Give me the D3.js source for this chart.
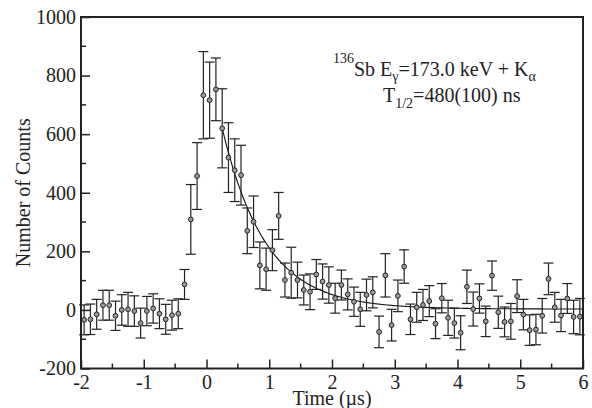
<!DOCTYPE html>
<html><head><meta charset="utf-8">
<script src="https://cdn.jsdelivr.net/npm/d3@7"></script>
<style>html,body{margin:0;padding:0;background:#fff;} svg{display:block;}</style>
</head><body>
<svg id="c" width="592" height="408"></svg>
<script>
// bin centres (µs)
const times = [-1.95,-1.85,-1.75,-1.65,-1.55,-1.45,-1.35,-1.25,-1.15,-1.05,-0.95,-0.85,-0.75,-0.65,-0.55,-0.45,-0.35,-0.25,-0.15,-0.05,
 0.05,0.15,0.25,0.35,0.45,0.55,0.65,0.75,0.85,0.95,1.05,1.15,1.25,1.35,1.45,1.55,1.65,1.75,1.85,1.95,
 2.05,2.15,2.25,2.35,2.45,2.55,2.65,2.75,2.85,2.95,3.05,3.15,3.25,3.35,3.45,3.55,3.65,3.75,3.85,3.95,
 4.05,4.15,4.25,4.35,4.45,4.55,4.65,4.75,4.85,4.95,5.05,5.15,5.25,5.35,5.45,5.55,5.65,5.75,5.85,5.95];
const counts = [-34,-32,-15,16,16,-20,0,2,-4,-45,-4,5,-13,-32,-18,-13,87,309,457,733,
 716,753,620,520,477,460,270,301,152,139,204,321,102,127,102,68,62,121,97,85,
 40,85,53,28,2,51,60,-75,118,-52,48,148,-32,9,17,30,-47,40,-27,-45,
 -78,79,3,39,-39,117,-8,-41,-39,47,-16,-69,-67,-20,106,9,-19,39,-24,-23];
const errors = [51,52,51,51,51,50,52,58,52,51,50,50,51,51,51,51,51,119,114,149,
 130,107,135,119,107,102,78,88,80,72,70,80,58,87,61,51,61,51,60,62,
 51,51,53,50,58,54,53,54,74,54,54,57,52,51,53,53,51,50,60,51,
 58,57,58,50,52,50,55,51,61,56,52,52,52,59,54,51,55,51,57,62];
// exponential fit: N(t) = fitN0 * 2^(-(t - fitStart)/fitHalfLife) + fitBg
const fitStart = 0.25, fitEnd = 6, fitN0 = 617, fitHalfLife = 0.48, fitBg = 3;
const xTicks = [-2,-1,0,1,2,3,4,5,6];
const yTicks = [-200,0,200,400,600,800,1000];

const svg = d3.select("#c");
const L = 81, R = 583, T = 17, B = 368.5;
const x = d3.scaleLinear().domain([-2,6]).range([L,R]);
const y = d3.scaleLinear().domain([-200,1000]).range([B,T]);
const font = "'Liberation Serif','Times New Roman',serif";
const ink = "#222";

const data = times.map((t,i)=>({t, v:counts[i], e:errors[i]}));

// fit curve
const fitPts = d3.range(fitStart, fitEnd + 1e-9, 0.02).map(t=>[t, fitN0*Math.pow(2, -(t-fitStart)/fitHalfLife) + fitBg]);
svg.append("path").datum(fitPts)
  .attr("d", d3.line().x(d=>x(d[0])).y(d=>y(d[1])))
  .attr("fill","none").attr("stroke","#111").attr("stroke-width",1.1);

// error bars
const eb = svg.append("g").attr("stroke", ink).attr("stroke-width",1.2).attr("fill","none");
data.forEach(d=>{
  const xc = x(d.t), y1 = y(d.v + d.e), y2 = y(d.v - d.e);
  eb.append("line").attr("x1",xc).attr("x2",xc).attr("y1",y1).attr("y2",y2);
  eb.append("line").attr("x1",xc-5).attr("x2",xc+5).attr("y1",y1).attr("y2",y1);
  eb.append("line").attr("x1",xc-5).attr("x2",xc+5).attr("y1",y2).attr("y2",y2);
});
// markers
svg.append("g").selectAll("circle").data(data).join("circle")
  .attr("cx",d=>x(d.t)).attr("cy",d=>y(d.v)).attr("r",2.4)
  .attr("fill","#9a9a9a").attr("stroke","#222").attr("stroke-width",1);

// frame
svg.append("rect").attr("x",L).attr("y",T).attr("width",R-L).attr("height",B-T)
  .attr("fill","none").attr("stroke",ink).attr("stroke-width",2);

// axes (ticks inward)
const xAxis = d3.axisBottom(x).tickValues(xTicks).tickSize(-9).tickPadding(6).tickFormat(d=>d<0?"-"+Math.abs(d):d);
const gx = svg.append("g").attr("transform",`translate(0,${B})`).call(xAxis);
const xMinor = d3.range(-1.5,6,1);
gx.selectAll(".minor").data(xMinor).join("line").attr("class","minor")
  .attr("x1",d=>x(d)).attr("x2",d=>x(d)).attr("y1",0).attr("y2",-5).attr("stroke",ink).attr("stroke-width",1.5);
const yAxis = d3.axisLeft(y).tickValues(yTicks).tickSize(-9).tickPadding(5).tickFormat(d=>d<0?"-"+Math.abs(d):d);
const gy = svg.append("g").attr("transform",`translate(${L},0)`).call(yAxis);
const yMinor = d3.range(-100,1000,200);
gy.selectAll(".minor").data(yMinor).join("line").attr("class","minor")
  .attr("y1",d=>y(d)).attr("y2",d=>y(d)).attr("x1",0).attr("x2",5).attr("stroke",ink).attr("stroke-width",1.5);
[gx,gy].forEach(g=>{
  g.attr("font-family",font).attr("font-size",20);
  g.select(".domain").remove();
  g.selectAll(".tick line").attr("stroke",ink).attr("stroke-width",1.5);
  g.selectAll("text").style("font-family",font).style("font-size","20px").attr("fill","#222");
});

// axis titles
svg.append("text").attr("x",(L+R)/2).attr("y",405).attr("text-anchor","middle")
  .style("font-family",font).style("font-size","20px").attr("fill","#222").text("Time (\u00b5s)");
svg.append("text").attr("transform",`translate(30,${(T+B)/2}) rotate(-90)`).attr("text-anchor","middle")
  .style("font-family",font).style("font-size","20px").attr("fill","#222").text("Number of Counts");

// annotation
const a1 = svg.append("text").attr("x",333).attr("y",76).style("font-family",font).attr("font-size",20).attr("fill","#222");
a1.append("tspan").attr("font-size",14).attr("dy",-13).text("136");
a1.append("tspan").attr("dy",13).text("Sb E");
a1.append("tspan").attr("font-size",14).attr("dy",5).text("\u03b3");
a1.append("tspan").attr("dy",-5).text("=173.0 keV + K");
a1.append("tspan").attr("font-size",14).attr("dy",5).text("\u03b1");
const a2 = svg.append("text").attr("x",383).attr("y",102).style("font-family",font).attr("font-size",20).attr("fill","#222");
a2.append("tspan").text("T");
a2.append("tspan").attr("font-size",14).attr("dy",6).text("1/2");
a2.append("tspan").attr("dy",-6).text("=480(100) ns");
</script>
</body></html>
